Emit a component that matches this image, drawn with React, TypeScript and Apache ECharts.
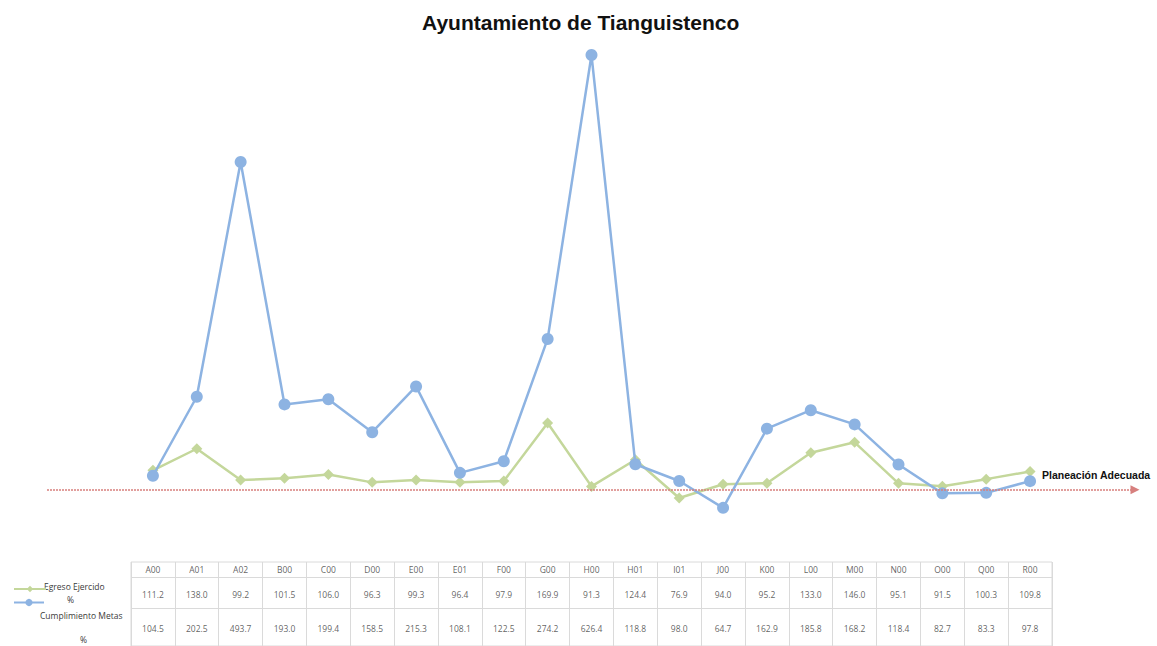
import React, { useEffect, useRef } from "react";
import * as echarts from "echarts";

const CATEGORIES = ["A00","A01","A02","B00","C00","D00","E00","E01","F00","G00","H00","H01","I01","J00","K00","L00","M00","N00","O00","Q00","R00"];
const EGRESO = [111.2,138.0,99.2,101.5,106.0,96.3,99.3,96.4,97.9,169.9,91.3,124.4,76.9,94.0,95.2,133.0,146.0,95.1,91.5,100.3,109.8];
const METAS = [104.5,202.5,493.7,193.0,199.4,158.5,215.3,108.1,122.5,274.2,626.4,118.8,98.0,64.7,162.9,185.8,168.2,118.4,82.7,83.3,97.8];
const SERIES_EGRESO = "Egreso Ejercido %";
const SERIES_METAS = "Cumplimiento Metas %";
const TITLE = "Ayuntamiento de Tianguistenco";
const REF_LABEL = "Planeación Adecuada";
const REF_VALUE = 87;

const GREEN = "#C4D79B";
const BLUE = "#8DB3E2";
const FONT = "Open Sans";
const TXT = "#3a3a3a";

export default function App() {
  const ref = useRef<HTMLDivElement>(null);
  useEffect(() => {
    document.body.style.margin = "0";
    const chart = echarts.init(ref.current!, undefined, { renderer: "svg" });
    const tableLabel = (row: number, vals: (string | number)[], fmt: (v: any) => string) => ({
      type: "scatter",
      xAxisIndex: 1,
      yAxisIndex: 1,
      symbolSize: 1,
      itemStyle: { color: "rgba(0,0,0,0)" },
      silent: true,
      data: vals.map((v, i) => [i, row, v]),
      label: {
        show: true,
        position: "inside",
        color: TXT,
        fontSize: 8.5,
        fontFamily: FONT,
        formatter: (p: any) => fmt(p.value[2]),
      },
    });
    chart.setOption({
      animation: false,
      backgroundColor: "#fff",
      title: {
        text: TITLE,
        left: 417,
        top: 7,
        textStyle: { fontSize: 21, fontWeight: "bold", fontFamily: "Liberation Sans", color: "#111" },
      },
      legend: [
        {
          data: [SERIES_EGRESO],
          left: 8,
          top: 580,
          itemWidth: 32,
          itemHeight: 8,
          formatter: () => "",
          selectedMode: false,
          lineStyle: { width: 2 },
        },
        {
          data: [SERIES_METAS],
          left: 8,
          top: 593,
          itemWidth: 30,
          itemHeight: 9,
          formatter: () => "",
          selectedMode: false,
          lineStyle: { width: 2 },
        },
      ],
      grid: [
        { left: 131, width: 921, top: 36, height: 524 },
        { left: 131, width: 921, top: 562, height: 84, show: true, borderColor: "#DADADA", borderWidth: 1 },
      ],
      xAxis: [
        { type: "category", data: CATEGORIES, gridIndex: 0, show: false },
        {
          type: "category",
          data: CATEGORIES,
          gridIndex: 1,
          axisLine: { show: false },
          axisTick: { show: false },
          axisLabel: { show: false },
          splitLine: { show: true, lineStyle: { color: "#DADADA", width: 1 } },
        },
      ],
      yAxis: [
        { type: "value", min: 0, max: 650, gridIndex: 0, show: false },
        { type: "value", min: 0, max: 84, inverse: true, gridIndex: 1, show: false },
      ],
      graphic: [
        { type: "text", left: 44, top: 582, style: { text: "Egreso Ejercido", fontSize: 8.5, fontFamily: FONT, fill: TXT } },
        { type: "text", left: 67, top: 595, style: { text: "%", fontSize: 8.5, fontFamily: FONT, fill: TXT } },
        { type: "text", left: 40, top: 611, style: { text: "Cumplimiento Metas", fontSize: 8.5, fontFamily: FONT, fill: TXT } },
        { type: "text", left: 80, top: 635, style: { text: "%", fontSize: 8.5, fontFamily: FONT, fill: TXT } },
        { type: "text", left: 1042, top: 469, style: { text: REF_LABEL, fontSize: 10.5, fontWeight: "bold", fontFamily: "Liberation Sans", fill: "#111" } },
      ],
      series: [
        {
          name: SERIES_EGRESO,
          type: "line",
          data: EGRESO,
          clip: false,
          symbol: "diamond",
          symbolSize: 11,
          lineStyle: { color: GREEN, width: 2.5 },
          itemStyle: { color: GREEN },
          z: 3,
          markLine: {
            silent: true,
            symbol: ["none", "triangle"],
            symbolSize: [9, 9],
            label: { show: false },
            lineStyle: { color: "#D7807E", type: [2, 1], width: 1.5 },
            data: [[{ x: 47, yAxis: REF_VALUE }, { x: 1135, yAxis: REF_VALUE }]],
          },
        },
        {
          name: SERIES_METAS,
          type: "line",
          data: METAS,
          clip: false,
          symbol: "circle",
          symbolSize: 12,
          lineStyle: { color: BLUE, width: 2.5 },
          itemStyle: { color: BLUE },
          z: 4,
        },
        {
          type: "scatter",
          xAxisIndex: 1,
          yAxisIndex: 1,
          symbolSize: 1,
          itemStyle: { color: "rgba(0,0,0,0)" },
          silent: true,
          data: [],
          markLine: {
            silent: true,
            symbol: ["none", "none"],
            label: { show: false },
            lineStyle: { color: "#DADADA", type: "solid", width: 1 },
            data: [{ yAxis: 15 }, { yAxis: 46 }],
          },
        },
        tableLabel(7, CATEGORIES, (v) => String(v)),
        tableLabel(32, EGRESO, (v) => Number(v).toFixed(1)),
        tableLabel(66, METAS, (v) => Number(v).toFixed(1)),
      ],
    });
    return () => chart.dispose();
  }, []);
  return <div ref={ref} style={{ width: 1157, height: 646 }} />;
}
